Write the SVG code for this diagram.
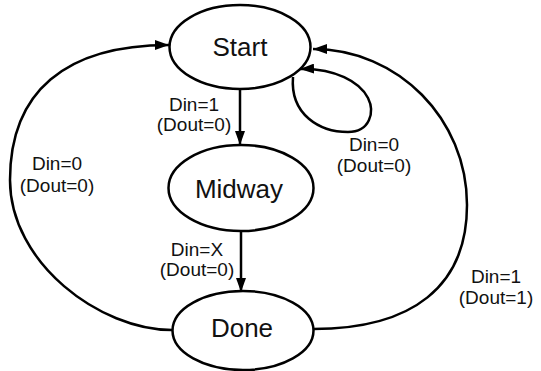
<svg xmlns="http://www.w3.org/2000/svg" width="541" height="371" viewBox="0 0 541 371">
<style>
.node{fill:#fff;stroke:#000;stroke-width:2.5}
.edge{fill:none;stroke:#000;stroke-width:2.5}
.name{font-family:"Liberation Sans",Arial,sans-serif;font-size:26px;text-anchor:middle;fill:#111}
.lbl{font-family:"Liberation Sans",Arial,sans-serif;font-size:19px;text-anchor:middle;fill:#111}
</style>
<defs>
<marker id="ah" markerUnits="userSpaceOnUse" markerWidth="14" markerHeight="10" refX="14" refY="5" orient="auto">
<path d="M0,0 L14,5 L0,10 z" fill="#000"/>
</marker>
</defs>
<rect width="541" height="371" fill="#fff"/>
<g id="connectors">
<path class="edge" d="M172,330 C100,330 10,263 10,180 C10,92 65,45 169,45" marker-end="url(#ah)"/>
<path class="edge" d="M313,329 C413,329 467,286 467,205 C467,119 398,49 313,49" marker-end="url(#ah)"/>
<path class="edge" d="M293,77 C290,115 320,132 348,132 C370,132 375,112 368,98 C360,82 335,68 300,69" marker-end="url(#ah)"/>
<path class="edge" d="M240,89 L240,145" marker-end="url(#ah)"/>
<path class="edge" d="M241,231 L241,292" marker-end="url(#ah)"/>
</g>
<g id="start">
<ellipse class="node" cx="240" cy="47" rx="70.5" ry="42"/>
<text class="name" x="240" y="56">Start</text>
</g>
<g id="midway">
<ellipse class="node" cx="241" cy="188" rx="72.5" ry="43"/>
<text class="name" x="239" y="198">Midway</text>
</g>
<g id="done">
<ellipse class="node" cx="243" cy="330.5" rx="70.5" ry="39.5"/>
<text class="name" x="242" y="337">Done</text>
</g>
<g id="labels">
<text class="lbl" x="194" y="111">Din=1</text>
<text class="lbl" x="194" y="131">(Dout=0)</text>
<text class="lbl" x="197" y="256">Din=X</text>
<text class="lbl" x="197" y="276">(Dout=0)</text>
<text class="lbl" x="57" y="170">Din=0</text>
<text class="lbl" x="57" y="192">(Dout=0)</text>
<text class="lbl" x="374" y="151">Din=0</text>
<text class="lbl" x="374" y="172">(Dout=0)</text>
<text class="lbl" x="496" y="283">Din=1</text>
<text class="lbl" x="496" y="304">(Dout=1)</text>
</g>
</svg>
